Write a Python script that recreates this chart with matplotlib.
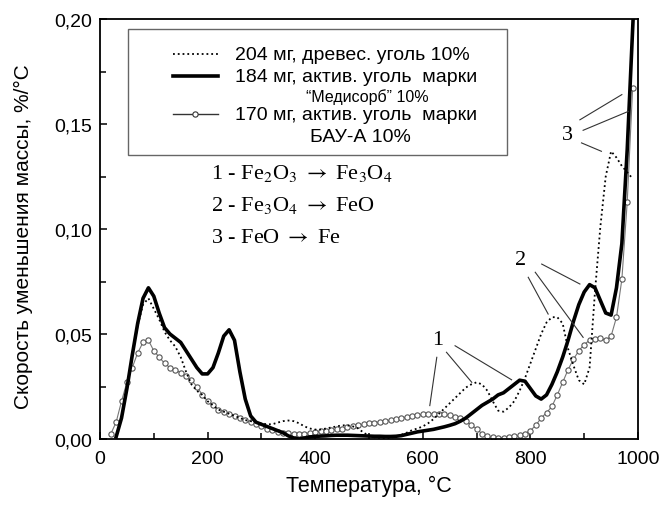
import numpy as np
import matplotlib
matplotlib.use("Agg")
import matplotlib.pyplot as plt
from matplotlib.lines import Line2D
from matplotlib.patches import Rectangle
from matplotlib.ticker import FuncFormatter, MultipleLocator

plt.rcParams["font.family"] = ["Liberation Sans", "DejaVu Sans"]
plt.rcParams["mathtext.fontset"] = "stix"

nan = np.nan

# temperature grid, deg C
temp = np.arange(20, 1001, 10)

# 184 mg, activated carbon "Медисорб" (thick solid)
medisorb = [
    nan, 0.001, 0.010, 0.024, 0.040, 0.055, 0.067, 0.072, 0.068, 0.060,
    0.053, 0.050, 0.048, 0.046, 0.042, 0.038, 0.034, 0.031, 0.031, 0.034,
    0.041, 0.049, 0.052, 0.047, 0.032, 0.019, 0.011, 0.008, 0.007, 0.006,
    0.005, 0.004, 0.003, 0.0015, 0.0005, 0.0, 0.0005, 0.001, 0.0012, 0.0014,
    0.0015, 0.0017, 0.0018, 0.0018, 0.0018, 0.0017, 0.0016, 0.0015, 0.0014, 0.0013,
    0.0013, 0.0012, 0.0012, 0.0013, 0.0016, 0.0022, 0.0028, 0.0034, 0.0038, 0.0042,
    0.0046, 0.0052, 0.0058, 0.0065, 0.0073, 0.0085, 0.010, 0.012, 0.014, 0.016,
    0.0175, 0.019, 0.021, 0.022, 0.024, 0.026, 0.028, 0.0275, 0.024, 0.0205,
    0.019, 0.021, 0.026, 0.032, 0.039, 0.047, 0.056, 0.064, 0.070, 0.0735,
    0.072, 0.066, 0.060, 0.059, 0.072, 0.093, 0.138, 0.195, 0.250,
]

# 204 mg, wood charcoal (dotted)
charcoal = [
    nan, 0.001, 0.010, 0.024, 0.040, 0.054, 0.064, 0.067, 0.062, 0.057,
    0.051, 0.047, 0.044, 0.039, 0.032, 0.026, 0.023, 0.021, 0.018, 0.016,
    0.014, 0.013, 0.012, 0.011, 0.010, 0.009, 0.0085, 0.008, 0.0075, 0.007,
    0.007, 0.0078, 0.0085, 0.0088, 0.0085, 0.0075, 0.006, 0.005, 0.0045, 0.0045,
    0.005, 0.0055, 0.006, 0.0065, 0.0065, 0.006, 0.005, 0.003, 0.0015, 0.0008,
    0.0005, 0.0003, 0.0005, 0.0012, 0.002, 0.003, 0.0042, 0.005, 0.006, 0.0075,
    0.0095, 0.012, 0.0145, 0.017, 0.0195, 0.022, 0.0245, 0.026, 0.027, 0.026,
    0.023, 0.018, 0.0135, 0.013, 0.015, 0.018, 0.023, 0.029, 0.036, 0.043,
    0.050, 0.0555, 0.058, 0.058, 0.055, 0.043, 0.035, 0.028, 0.026, 0.034,
    0.070, 0.101, 0.125, 0.137, 0.134, 0.130, 0.127, 0.124, nan,
]

# 170 mg, activated carbon БАУ-А (open circles)
bau = [
    0.0024, 0.008, 0.018, 0.027, 0.034, 0.041, 0.046, 0.047, 0.042, 0.039,
    0.036, 0.034, 0.033, 0.0315, 0.030, 0.028, 0.025, 0.021, 0.018, 0.016,
    0.014, 0.013, 0.012, 0.011, 0.010, 0.009, 0.008, 0.007, 0.006, 0.005,
    0.0045, 0.0035, 0.003, 0.0027, 0.0025, 0.0024, 0.0025, 0.003, 0.0033, 0.0036,
    0.004, 0.0044, 0.0047, 0.005, 0.0055, 0.006, 0.0065, 0.007, 0.0074, 0.0078,
    0.0082, 0.0086, 0.009, 0.0095, 0.010, 0.0105, 0.011, 0.0114, 0.0117, 0.0119,
    0.012, 0.0119, 0.0117, 0.0113, 0.0107, 0.0098, 0.0085, 0.0068, 0.0048, 0.0025,
    0.0012, 0.0008, 0.0007, 0.0007, 0.0009, 0.0012, 0.0017, 0.0025, 0.004, 0.0065,
    0.010, 0.0125, 0.0155, 0.021, 0.027, 0.033, 0.038, 0.042, 0.045, 0.047,
    0.0475, 0.048, 0.047, 0.049, 0.058, 0.076, 0.113, 0.167, nan,
]

legend_labels = [
    "204 мг, древес. уголь 10%",
    "184 мг, актив. уголь  марки",
    "\u201cМедисорб\u201d 10%",
    "170 мг, актив. уголь  марки",
    "БАУ-А 10%",
]

reactions = [
    r"1 - Fe$_2$O$_3$ $\rightarrow$ Fe$_3$O$_4$",
    r"2 - Fe$_3$O$_4$ $\rightarrow$ FeO",
    r"3 - FeO $\rightarrow$ Fe",
]

# leader lines: label, label position, list of (start, end) in data coords
leaders = [
    ("1", (628, 0.0476), [((626, 0.0389), (613, 0.0159)),
                          ((644, 0.0413), (691, 0.0270)),
                          ((660, 0.0444), (765, 0.0282))]),
    ("2", (781, 0.0857), [((821, 0.0833), (892, 0.0738)),
                          ((809, 0.0794), (898, 0.0484)),
                          ((796, 0.0770), (833, 0.0595))]),
    ("3", (868, 0.1450), [((892, 0.1520), (970, 0.1640)),
                          ((898, 0.1470), (982, 0.1560)),
                          ((895, 0.1410), (932, 0.1370))]),
]

W, H = 665, 506
fig = plt.figure(figsize=(W / 100, H / 100), dpi=100)
ax = fig.add_axes([100 / W, 1 - 440 / H, 538 / W, 420 / H])


def px(x, y):
    return x / W, 1 - y / H


ax.plot(temp, bau, "-", color="#777777", lw=0.8, marker="o", ms=3.8,
        mfc="white", mec="#555555", mew=0.8, zorder=2)
ax.plot(temp, charcoal, ":", color="black", lw=1.3, zorder=3)
ax.plot(temp, medisorb, "-", color="black", lw=2.6, zorder=4)

for lab, pos, segs in leaders:
    ax.text(pos[0], pos[1], lab, fontsize=16, ha="center", va="center",
            family=["Liberation Serif", "DejaVu Serif"])
    for (x0, y0), (x1, y1) in segs:
        ax.plot([x0, x1], [y0, y1], color="#333333", lw=0.8, zorder=5)

ax.set_xlim(0, 1000)
ax.set_ylim(0, 0.2)
ax.xaxis.set_major_locator(MultipleLocator(200))
ax.xaxis.set_minor_locator(MultipleLocator(100))
ax.yaxis.set_major_locator(MultipleLocator(0.05))
ax.yaxis.set_minor_locator(MultipleLocator(0.025))
ax.yaxis.set_major_formatter(FuncFormatter(lambda v, p: f"{v:.2f}".replace(".", ",")))
ax.tick_params(which="both", direction="in", labelsize=14, width=1.1)
ax.tick_params(which="major", length=5)
ax.tick_params(axis="x", which="major", pad=8)
ax.tick_params(axis="y", which="major", pad=6)
ax.tick_params(which="minor", length=4)
for s in ax.spines.values():
    s.set_linewidth(1.3)

ax.set_xlabel("Температура, °C", fontsize=15.5)
ax.xaxis.set_label_coords(0.5, -0.085)
ax.set_ylabel("Скорость уменьшения массы, %/°C", fontsize=15)
ax.yaxis.set_label_coords(-0.125, 0.485)

# reaction list
for i, r in enumerate(reactions):
    fig.text(*px(211, 173 + i * 33), r, fontsize=16, va="center", ha="left",
             family=["Liberation Serif", "DejaVu Serif"])

# hand-built legend box
fig.add_artist(Rectangle(px(128, 156), 379 / W, 126 / H, transform=fig.transFigure,
                         facecolor="white", edgecolor="#666666", lw=1.0, zorder=5))
fig.add_artist(Line2D([173 / W, 218 / W], [px(0, 55)[1]] * 2, transform=fig.transFigure,
                      color="black", ls=":", lw=1.3, zorder=6))
fig.add_artist(Line2D([173 / W, 218 / W], [px(0, 77)[1]] * 2, transform=fig.transFigure,
                      color="black", lw=2.6, zorder=6))
fig.add_artist(Line2D([173 / W, 195.5 / W, 218 / W], [px(0, 115)[1]] * 3,
                      transform=fig.transFigure, color="#333333", lw=1.0,
                      marker="o", ms=3.8, mfc="white", mec="#333333", mew=0.8,
                      markevery=[1], zorder=6))

fig.text(*px(235, 55), legend_labels[0], fontsize=14, va="center", zorder=7)
fig.text(*px(235, 77), legend_labels[1], fontsize=14, va="center", zorder=7)
fig.text(*px(367, 97), legend_labels[2], fontsize=11.5, va="center", ha="center", zorder=7)
fig.text(*px(235, 115), legend_labels[3], fontsize=14, va="center", zorder=7)
fig.text(*px(360, 138), legend_labels[4], fontsize=14, va="center", ha="center", zorder=7)

fig.savefig("out.png", dpi=100)
